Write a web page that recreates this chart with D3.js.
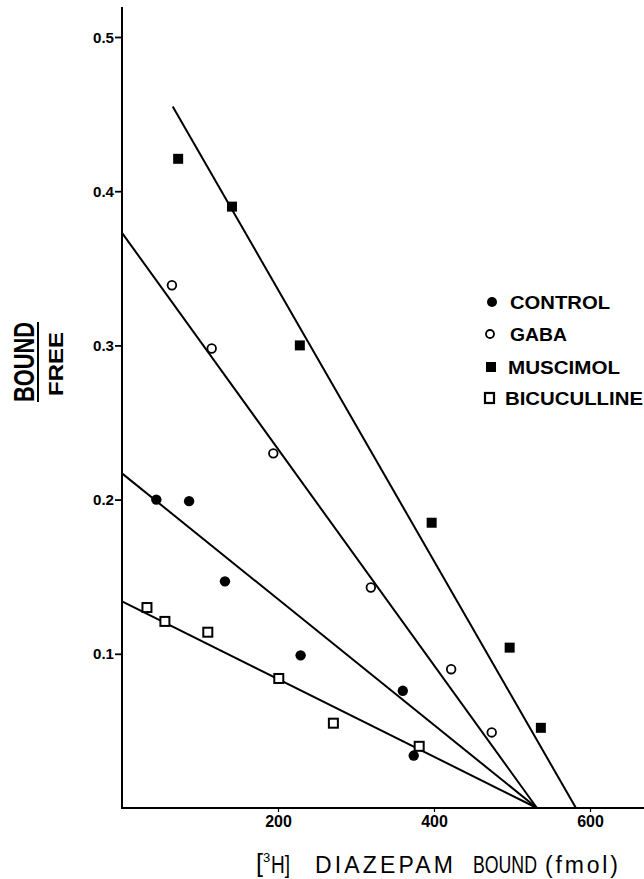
<!DOCTYPE html>
<html>
<head>
<meta charset="utf-8">
<script src="https://cdn.jsdelivr.net/npm/d3@7"></script>
<style>
  html, body { margin: 0; padding: 0; background: #fff; }
  svg { display: block; }
  text { font-family: "Liberation Sans", Arial, sans-serif; fill: #000; }
</style>
</head>
<body>
<script>
// values
const controlX = [44, 86, 132, 229, 360, 374];
const controlY = [0.200, 0.199, 0.147, 0.099, 0.076, 0.034];
const gabaX = [64, 115, 194, 319, 422, 474];
const gabaY = [0.339, 0.298, 0.230, 0.143, 0.090, 0.049];
const muscimolX = [72, 141, 228, 397, 497, 537];
const muscimolY = [0.421, 0.390, 0.300, 0.185, 0.104, 0.052];
const bicucullineX = [32, 55, 110, 201, 271, 381];
const bicucullineY = [0.130, 0.121, 0.114, 0.084, 0.055, 0.040];

// fitted lines, [x, y] end points
const controlLine = [[0, 0.217], [532, 0]];
const gabaLine = [[0, 0.373], [532, 0]];
const muscimolLine = [[65, 0.455], [582, 0]];
const bicucullineLine = [[0, 0.134], [532, 0]];

const xTicks = [200, 400, 600];
const yTicks = [0.1, 0.2, 0.3, 0.4, 0.5];
const legendNames = ["CONTROL", "GABA", "MUSCIMOL", "BICUCULLINE"];

document.addEventListener("DOMContentLoaded", function () {
  const width = 644, height = 879;

  const svg = d3.select("body").append("svg")
    .attr("width", width)
    .attr("height", height);

  const x = d3.scaleLinear().domain([0, 600]).range([122, 590]);
  const y = d3.scaleLinear().domain([0, 0.5]).range([808, 37]);

  // axes
  svg.append("line")
    .attr("x1", x(0)).attr("x2", x(0))
    .attr("y1", 7).attr("y2", y(0))
    .attr("stroke", "#000").attr("stroke-width", 2);
  svg.append("line")
    .attr("x1", x(0) - 1).attr("x2", width)
    .attr("y1", y(0)).attr("y2", y(0))
    .attr("stroke", "#000").attr("stroke-width", 2);

  const yAxis = svg.append("g")
    .attr("transform", `translate(${x(0)},0)`)
    .call(d3.axisLeft(y).tickValues(yTicks).tickSize(7).tickFormat(d3.format(".1f")));
  yAxis.select(".domain").remove();
  yAxis.selectAll(".tick line").attr("stroke-width", 1.8);
  yAxis.selectAll(".tick text")
    .attr("x", -8).attr("dy", "0.36em")
    .style("font-size", "14px").style("font-weight", "bold")
    .attr("textLength", 21).attr("lengthAdjust", "spacingAndGlyphs");

  const xAxis = svg.append("g")
    .attr("transform", `translate(0,${y(0)})`)
    .call(d3.axisBottom(x).tickValues(xTicks).tickSize(4));
  xAxis.select(".domain").remove();
  xAxis.selectAll(".tick line").attr("stroke-width", 1.2);
  xAxis.selectAll(".tick text")
    .attr("y", 19).attr("dy", 0)
    .style("font-size", "16px").style("font-weight", "bold");

  // regression lines
  const lines = [controlLine, gabaLine, muscimolLine, bicucullineLine];
  const lineGen = d3.line().x(d => x(d[0])).y(d => y(d[1]));
  svg.selectAll("path.fit")
    .data(lines)
    .join("path")
    .attr("class", "fit")
    .attr("d", lineGen)
    .attr("fill", "none")
    .attr("stroke", "#000")
    .attr("stroke-width", 2);

  // markers
  const zip = (xs, ys) => xs.map((v, i) => [v, ys[i]]);

  svg.selectAll("circle.control")
    .data(zip(controlX, controlY))
    .join("circle")
    .attr("class", "control")
    .attr("cx", d => x(d[0])).attr("cy", d => y(d[1]))
    .attr("r", 5.2).attr("fill", "#000");

  svg.selectAll("circle.gaba")
    .data(zip(gabaX, gabaY))
    .join("circle")
    .attr("class", "gaba")
    .attr("cx", d => x(d[0])).attr("cy", d => y(d[1]))
    .attr("r", 4.3).attr("fill", "#fff")
    .attr("stroke", "#000").attr("stroke-width", 1.8);

  svg.selectAll("rect.muscimol")
    .data(zip(muscimolX, muscimolY))
    .join("rect")
    .attr("class", "muscimol")
    .attr("x", d => x(d[0]) - 5).attr("y", d => y(d[1]) - 5)
    .attr("width", 10).attr("height", 10).attr("fill", "#000");

  svg.selectAll("rect.bicuculline")
    .data(zip(bicucullineX, bicucullineY))
    .join("rect")
    .attr("class", "bicuculline")
    .attr("x", d => x(d[0]) - 4.5).attr("y", d => y(d[1]) - 4.5)
    .attr("width", 9).attr("height", 9).attr("fill", "#fff")
    .attr("stroke", "#000").attr("stroke-width", 2);

  // legend
  const legend = svg.append("g");
  const rowY = [302, 334, 367, 398];
  const textW = [100, 57, 112, 138];
  const textX = [510, 510, 508, 505];
  legend.append("circle").attr("cx", 492).attr("cy", rowY[0]).attr("r", 5).attr("fill", "#000");
  legend.append("circle").attr("cx", 490).attr("cy", rowY[1]).attr("r", 4)
    .attr("fill", "#fff").attr("stroke", "#000").attr("stroke-width", 1.8);
  legend.append("rect").attr("x", 486).attr("y", rowY[2] - 5).attr("width", 10).attr("height", 10).attr("fill", "#000");
  legend.append("rect").attr("x", 485).attr("y", rowY[3] - 5).attr("width", 9).attr("height", 10)
    .attr("fill", "#fff").attr("stroke", "#000").attr("stroke-width", 2.2);
  legend.selectAll("text")
    .data(legendNames)
    .join("text")
    .attr("x", (d, i) => textX[i])
    .attr("y", (d, i) => rowY[i] + 7)
    .attr("textLength", (d, i) => textW[i])
    .attr("lengthAdjust", "spacingAndGlyphs")
    .style("font-size", "19px").style("font-weight", "bold")
    .text(d => d);

  // y label: BOUND / FREE
  svg.append("text")
    .attr("transform", "translate(34,362) rotate(-90)")
    .attr("text-anchor", "middle")
    .attr("textLength", 80).attr("lengthAdjust", "spacingAndGlyphs")
    .style("font-size", "30px").style("font-weight", "bold")
    .text("BOUND");
  svg.append("line")
    .attr("x1", 38).attr("x2", 38).attr("y1", 322).attr("y2", 402)
    .attr("stroke", "#000").attr("stroke-width", 2);
  svg.append("text")
    .attr("transform", "translate(63,364) rotate(-90)")
    .attr("text-anchor", "middle")
    .attr("textLength", 64).attr("lengthAdjust", "spacingAndGlyphs")
    .style("font-size", "20px").style("font-weight", "bold")
    .text("FREE");

  // x label: [3H] DIAZEPAM BOUND (fmol)
  const xl = svg.append("g").style("font-weight", "normal");
  xl.append("text").attr("x", 256).attr("y", 872).style("font-size", "25px").text("[");
  xl.append("text").attr("x", 263).attr("y", 862).style("font-size", "13px").text("3");
  xl.append("text").attr("x", 271).attr("y", 873).style("font-size", "23px")
    .attr("textLength", 19).attr("lengthAdjust", "spacingAndGlyphs").text("H]");
  xl.append("text").attr("x", 315).attr("y", 873).style("font-size", "23px")
    .attr("textLength", 138).attr("lengthAdjust", "spacing").text("DIAZEPAM");
  // squeeze "BOUND" horizontally with a transform so its box stays narrow
  const bound = xl.append("text").style("font-size", "23px").text("BOUND");
  const bw = bound.node().getComputedTextLength() || 83;
  bound.attr("transform", `translate(473,873) scale(${64 / bw},1)`);
  xl.append("text").attr("x", 545).attr("y", 873).style("font-size", "23px")
    .attr("textLength", 73).attr("lengthAdjust", "spacing").text("(fmol)");
});
</script>
</body>
</html>
